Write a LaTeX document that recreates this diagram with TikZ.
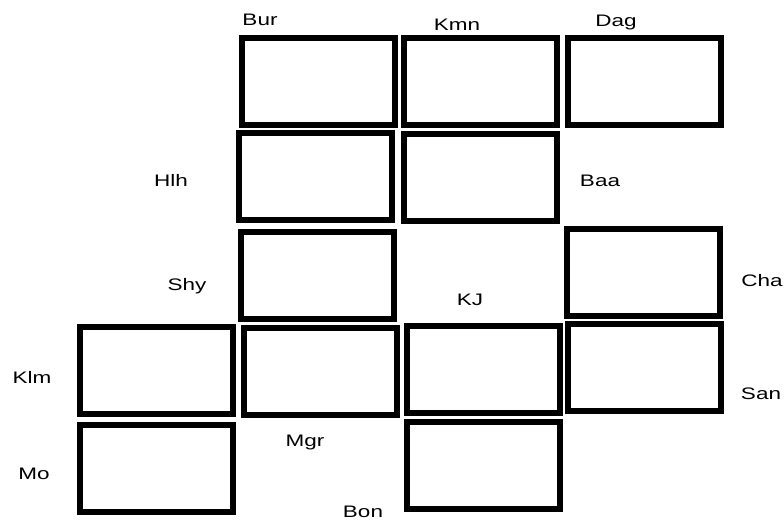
\documentclass[tikz,border=0pt]{standalone}
\usepackage{fontspec}
\newfontfamily\lblfont[FakeStretch=1.35]{Liberation Sans}
\usepackage{tikz}
\usetikzlibrary{positioning}

\begin{document}
\begin{tikzpicture}[
        x=0.75pt, y=-0.75pt,
        room/.style={draw, line width=4.5pt, inner sep=0pt, minimum width=114.75pt, minimum height=65.25pt},
        lbl/.style={font=\lblfont\fontsize{12.5}{14}\selectfont, inner sep=0pt}
    ]
        \useasboundingbox (0,0) rectangle (784,522);

        % top row
        \node[room] (bur) at (318, 81.5) {};
        \node[room] (kmn) at (480, 81.5) {};
        \node[room] (dag) at (644, 81.5) {};

        % second row
        \node[room] (hlh) at (315.5, 176.5) {};
        \node[room] (baa) at (480.5, 177) {};

        % third row
        \node[room] (shy) at (317, 275) {};
        \node[room] (cha) at (643.5, 272) {};

        % fourth row
        \node[room] (klm) at (156.5, 370) {};
        \node[room] (mgr) at (320, 371.5) {};
        \node[room] (kj) at (483, 369) {};
        \node[room] (san) at (644, 367.5) {};

        % bottom row
        \node[room] (mo) at (156.5, 468) {};
        \node[room] (bon) at (483, 465.5) {};

        % labels
        \node[lbl] (tBur) at (260, 20) {Bur};
        \node[lbl] (tKmn) at (457, 25) {Kmn};
        \node[lbl] (tDag) at (616, 22) {Dag};
        \node[lbl] (tHlh) at (171, 180) {Hlh};
        \node[lbl] (tBaa) at (600, 181) {Baa};
        \node[lbl] (tShy) at (187, 286) {Shy};
        \node[lbl] (tCha) at (762, 281) {Cha};
        \node[lbl] (tKJ) at (470, 300) {KJ};
        \node[lbl] (tKlm) at (32, 377) {Klm};
        \node[lbl] (tSan) at (761, 394) {San};
        \node[lbl] (tMgr) at (305, 442) {Mgr};
        \node[lbl] (tMo) at (34, 474) {Mo};
        \node[lbl] (tBon) at (363, 512) {Bon};
    \end{tikzpicture}
\end{document}
